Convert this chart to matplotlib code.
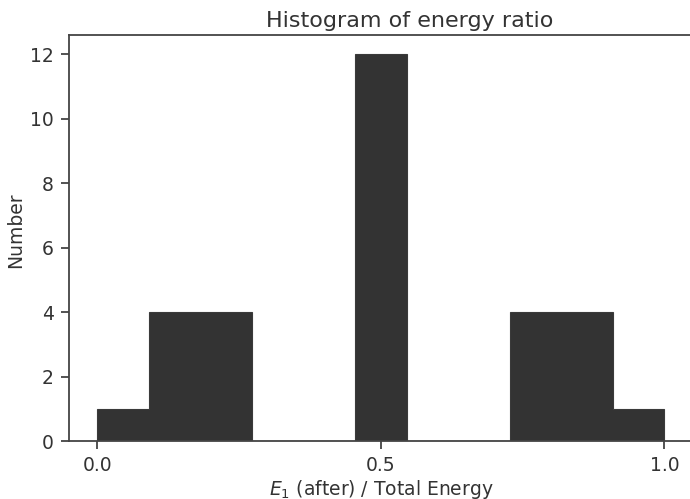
import numpy as np
import matplotlib
matplotlib.use("Agg")
import matplotlib.pyplot as plt

# Histogram counts over 11 equal bins spanning [0, 1]
bin_edges = np.linspace(0.0, 1.0, 12)
counts = [1, 4, 4, 0, 0, 12, 0, 0, 4, 4, 1]
x_ticks = [0.0, 0.5, 1.0]
y_ticks = [0, 2, 4, 6, 8, 10, 12]

text_c = "#333333"
plt.rcParams.update({
    "font.family": "DejaVu Sans",
    "text.color": text_c,
    "axes.labelcolor": text_c,
    "xtick.color": text_c,
    "ytick.color": text_c,
})

fig = plt.figure(figsize=(6.9, 4.99), dpi=100)
ax = fig.add_axes([0.1, 0.1162, 0.904, 0.8136])

centers = bin_edges[:-1]
ax.hist(centers, bins=bin_edges, weights=counts, histtype="stepfilled",
        color="#333333", edgecolor="#3a3a3a", linewidth=0.8)

ax.set_xlim(-0.05, 1.05)
ax.set_ylim(0, 12.6)
ax.set_xticks(x_ticks)
ax.set_xticklabels([f"{v:.1f}" for v in x_ticks])
ax.set_yticks(y_ticks)

for s in ["left", "bottom", "top"]:
    ax.spines[s].set_color("#444444")
    ax.spines[s].set_linewidth(1.3)
ax.spines["right"].set_visible(False)

ax.tick_params(axis="both", labelsize=13.5, length=6, width=1.3,
               color="#444444", pad=5)

ax.set_title("Histogram of energy ratio", fontsize=16, pad=6, x=0.546)
ax.set_xlabel(r"$E_1$ (after) / Total Energy", fontsize=13.5, labelpad=2)
ax.set_ylabel("Number", fontsize=13.5)
ax.yaxis.set_label_coords(-0.07, 0.52)

fig.savefig("out.png", dpi=100)
